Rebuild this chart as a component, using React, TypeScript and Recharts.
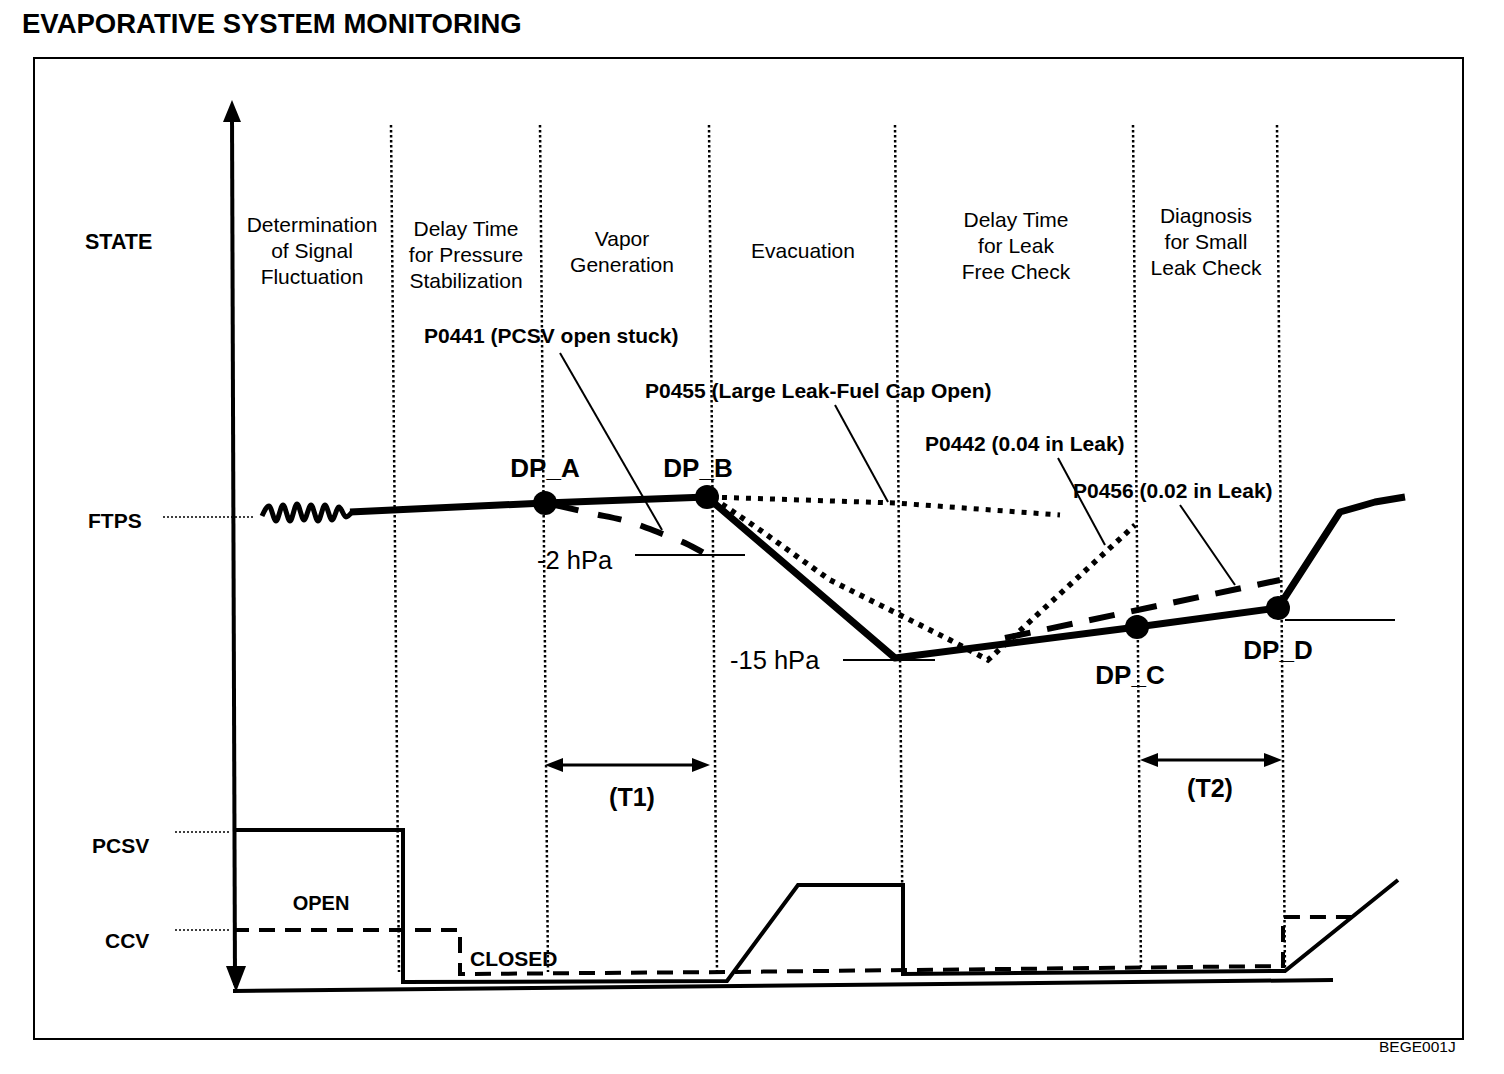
/**
 * Evaporative system monitoring — schematic timing diagram drawn with Recharts.
 * x = time (arbitrary units), y = signal level (arbitrary units).
 */
import { ComposedChart, Line, XAxis, YAxis, ReferenceLine, ReferenceDot } from 'recharts';

const FONT = '"Liberation Sans", Arial, Helvetica, sans-serif';

// phase boundaries (time)
const PHASE_BOUNDS = [16.1, 31.0, 47.9, 66.5, 90.3, 104.7];

const PHASE_NAMES = [
  ['Determination', 'of Signal', 'Fluctuation'],
  ['Delay Time', 'for Pressure', 'Stabilization'],
  ['Vapor', 'Generation'],
  ['Evacuation'],
  ['Delay Time', 'for Leak', 'Free Check'],
  ['Diagnosis', 'for Small', 'Leak Check'],
];

// FTPS signal
const FTPS_NOISE = [
  { t: 3.2, v: 47.4 }, { t: 3.9, v: 48.4 }, { t: 4.6, v: 46.9 }, { t: 5.3, v: 48.5 },
  { t: 6.0, v: 46.9 }, { t: 6.7, v: 48.6 }, { t: 7.4, v: 47.0 }, { t: 8.1, v: 48.5 },
  { t: 8.8, v: 46.9 }, { t: 9.5, v: 48.5 }, { t: 10.2, v: 47.0 }, { t: 10.9, v: 48.3 },
  { t: 11.6, v: 47.3 }, { t: 12.2, v: 47.8 },
];
const FTPS_TRACE = [
  { t: 12.0, v: 47.8 }, { t: 31.5, v: 48.7 }, { t: 47.7, v: 49.3 }, { t: 66.5, v: 33.2 },
  { t: 90.7, v: 36.3 }, { t: 104.8, v: 38.2 }, { t: 111.0, v: 47.8 }, { t: 114.5, v: 48.8 },
  { t: 117.5, v: 49.3 },
];
const DP_POINTS = [
  { name: 'DP_A', t: 31.5, v: 48.7 },
  { name: 'DP_B', t: 47.7, v: 49.3 },
  { name: 'DP_C', t: 90.7, v: 36.3 },
  { name: 'DP_D', t: 104.8, v: 38.2 },
];

// fault traces
const P0441_TRACE = [
  { t: 32.5, v: 48.5 }, { t: 36.0, v: 47.7 }, { t: 40.0, v: 46.8 }, { t: 43.0, v: 45.7 },
  { t: 45.5, v: 44.7 }, { t: 47.9, v: 43.4 },
];
const P0455_TRACE = [{ t: 48.0, v: 49.3 }, { t: 66.5, v: 48.7 }, { t: 83.0, v: 47.5 }];
const P0442_TRACE = [
  { t: 48.3, v: 49.2 }, { t: 53.0, v: 46.0 }, { t: 60.0, v: 41.0 }, { t: 67.0, v: 37.5 },
  { t: 72.0, v: 35.0 }, { t: 75.8, v: 33.0 }, { t: 90.5, v: 46.5 },
];
const P0456_TRACE = [{ t: 77.5, v: 35.2 }, { t: 105.0, v: 41.0 }];

// valve states
const PCSV_TRACE = [
  { t: 0.3, v: 16.0 }, { t: 17.3, v: 16.0 }, { t: 17.3, v: 0.8 }, { t: 49.7, v: 0.9 },
  { t: 56.8, v: 10.5 }, { t: 67.3, v: 10.5 }, { t: 67.3, v: 1.6 }, { t: 105.5, v: 1.9 },
  { t: 116.8, v: 11.0 },
];
const CCV_TRACE = [
  { t: 0.3, v: 6.0 }, { t: 23.0, v: 6.0 }, { t: 23.0, v: 1.6 }, { t: 49.7, v: 1.8 },
  { t: 105.3, v: 2.4 }, { t: 105.3, v: 7.3 }, { t: 112.2, v: 7.3 },
];
const BASELINE = [{ t: 0.3, v: -0.1 }, { t: 110.3, v: 1.0 }];

const label = (
  key: string,
  t: number,
  v: number,
  lines: string[],
  size: number,
  bold = false,
  anchor: 'start' | 'middle' | 'end' = 'start',
  lh = 26,
) => (
  <ReferenceDot
    key={key}
    x={t}
    y={v}
    r={0}
    ifOverflow="visible"
    shape={(p: any) => (
      <text
        x={p.cx}
        y={p.cy}
        textAnchor={anchor}
        dominantBaseline="central"
        fontFamily={FONT}
        fontSize={size}
        fontWeight={bold ? 700 : 400}
        fill="#000"
      >
        {lines.map((l, i) => (
          <tspan key={i} x={p.cx} dy={i === 0 ? 0 : lh}>
            {l}
          </tspan>
        ))}
      </text>
    )}
  />
);

const arrowHead = (key: string, t: number, v: number, dir: 'up' | 'down' | 'left' | 'right', len = 20, half = 8) => (
  <ReferenceDot
    key={key}
    x={t}
    y={v}
    r={0}
    ifOverflow="visible"
    shape={(p: any) => {
      const { cx, cy } = p;
      let pts = '';
      if (dir === 'up') pts = `${cx},${cy} ${cx - half},${cy + len} ${cx + half},${cy + len}`;
      if (dir === 'down') pts = `${cx},${cy} ${cx - half},${cy - len} ${cx + half},${cy - len}`;
      if (dir === 'left') pts = `${cx},${cy} ${cx + len},${cy - half} ${cx + len},${cy + half}`;
      if (dir === 'right') pts = `${cx},${cy} ${cx - len},${cy - half} ${cx - len},${cy + half}`;
      return <polygon points={pts} fill="#000" />;
    }}
  />
);

const seg = (key: string, a: [number, number], b: [number, number], width = 2, dash?: string) => (
  <ReferenceLine
    key={key}
    segment={[{ x: a[0], y: a[1] }, { x: b[0], y: b[1] }]}
    stroke="#000"
    strokeWidth={width}
    strokeDasharray={dash}
    ifOverflow="visible"
  />
);

const PHASE_POS = [
  { t: 8.2, v: 76.6 },
  { t: 23.6, v: 76.2 },
  { t: 39.2, v: 75.2 },
  { t: 57.3, v: 74.0 },
  { t: 78.6, v: 77.1 },
  { t: 97.6, v: 77.5 },
];

export default function App() {
  return (
    <div style={{ position: 'absolute', left: 0, top: 0, width: 1504, height: 1074, background: '#fff' }}>
      <div
        style={{
          position: 'absolute',
          left: 22,
          top: 7,
          fontFamily: FONT,
          fontWeight: 700,
          fontSize: 27.5,
          lineHeight: '34px',
        }}
      >
        EVAPORATIVE SYSTEM MONITORING
      </div>
      <div
        style={{
          position: 'absolute',
          left: 33,
          top: 57,
          width: 1431,
          height: 983,
          border: '2px solid #000',
          boxSizing: 'border-box',
        }}
      />
      <div style={{ position: 'absolute', left: 1379, top: 1038, fontFamily: FONT, fontSize: 15.5 }}>BEGE001J</div>
      <div style={{ position: 'absolute', left: 0, top: 0 }}>
        <ComposedChart width={1504} height={1074} margin={{ top: 0, right: 0, bottom: 0, left: 0 }}>
          <XAxis type="number" dataKey="t" domain={[-23, 127.4]} hide allowDataOverflow />
          <YAxis type="number" domain={[-8.4, 99]} hide allowDataOverflow />

          {/* phase boundaries */}
          {PHASE_BOUNDS.map((t, i) => seg(`pb${i}`, [t, 86.5], [t + 0.8, 1.8], 2.5, '2.5 2.5'))}

          {/* left labels and dotted leaders */}
          {seg('lf', [-6.7, 47.3], [2.3, 47.3], 1.5, '2 2')}
          {seg('lp', [-5.5, 15.8], [0, 15.8], 1.5, '2 2')}
          {seg('lc', [-5.5, 6.0], [0, 6.0], 1.5, '2 2')}

          {/* vertical state axis */}
          {seg('ax', [0.2, 87.5], [0.5, 0.5], 4)}
          {arrowHead('axu', 0.2, 89.0, 'up', 22, 9)}
          {arrowHead('axd', 0.6, -0.2, 'down', 26, 10)}

          {/* reference marks */}
          {seg('h2', [40.5, 43.5], [51.5, 43.5], 2)}
          {seg('h15', [61.3, 33.0], [70.5, 33.0], 2)}
          {seg('hd', [105.5, 37.0], [116.5, 37.0], 2)}

          {/* leaders */}
          {seg('l41', [33.0, 63.7], [43.2, 46.0], 2)}
          {seg('l55', [60.5, 58.5], [65.8, 48.8], 2)}
          {seg('l42', [82.8, 53.2], [87.5, 44.5], 2)}
          {seg('l56', [95.0, 48.5], [100.5, 40.5], 2)}

          {/* T1 / T2 */}
          {seg('t1', [33.0, 22.5], [46.5, 22.5], 3)}
          {arrowHead('t1l', 31.5, 22.5, 'left', 18, 7)}
          {arrowHead('t1r', 48.0, 22.5, 'right', 18, 7)}
          {seg('t2', [92.5, 23.0], [103.7, 23.0], 3)}
          {arrowHead('t2l', 91.0, 23.0, 'left', 18, 7)}
          {arrowHead('t2r', 105.2, 23.0, 'right', 18, 7)}

          <Line data={BASELINE} dataKey="v" stroke="#000" strokeWidth={4} dot={false} activeDot={false} isAnimationActive={false} />
          <Line data={CCV_TRACE} dataKey="v" stroke="#000" strokeWidth={4} strokeDasharray="16 10" dot={false} activeDot={false} isAnimationActive={false} />
          <Line data={PCSV_TRACE} dataKey="v" stroke="#000" strokeWidth={4} dot={false} activeDot={false} isAnimationActive={false} />

          <Line data={P0455_TRACE} dataKey="v" stroke="#000" strokeWidth={5} strokeDasharray="5 7" dot={false} activeDot={false} isAnimationActive={false} />
          <Line data={P0442_TRACE} dataKey="v" stroke="#000" strokeWidth={5.5} strokeDasharray="5 6" dot={false} activeDot={false} isAnimationActive={false} />
          <Line data={P0456_TRACE} dataKey="v" stroke="#000" strokeWidth={6} strokeDasharray="26 17" dot={false} activeDot={false} isAnimationActive={false} />
          <Line data={P0441_TRACE} dataKey="v" type="monotone" stroke="#000" strokeWidth={6} strokeDasharray="24 20" dot={false} activeDot={false} isAnimationActive={false} />
          <Line data={FTPS_NOISE} dataKey="v" type="monotone" stroke="#000" strokeWidth={5} dot={false} activeDot={false} isAnimationActive={false} />
          <Line data={FTPS_TRACE} dataKey="v" stroke="#000" strokeWidth={7} strokeLinejoin="round" dot={false} activeDot={false} isAnimationActive={false} />

          {DP_POINTS.map((d) => (
            <ReferenceDot key={d.name} x={d.t} y={d.v} r={12} fill="#000" stroke="none" ifOverflow="visible" />
          ))}

          {/* texts */}
          {PHASE_NAMES.map((lines, i) => label(`ph${i}`, PHASE_POS[i].t, PHASE_POS[i].v, lines, 21, false, 'middle'))}
          {label('state', -14.5, 74.8, ['STATE'], 21.5, true)}
          {label('ftps', -14.2, 47.0, ['FTPS'], 21, true)}
          {label('pcsv', -13.8, 14.5, ['PCSV'], 21, true)}
          {label('ccv', -12.5, 5.0, ['CCV'], 21, true)}

          {label('dpa', 31.5, 52.2, [DP_POINTS[0].name], 26, true, 'middle')}
          {label('dpb', 46.8, 52.2, [DP_POINTS[1].name], 26, true, 'middle')}
          {label('dpc', 90.0, 31.5, [DP_POINTS[2].name], 26, true, 'middle')}
          {label('dpd', 104.8, 34.0, [DP_POINTS[3].name], 26, true, 'middle')}

          {label('p41', 19.4, 65.5, ['P0441 (PCSV open stuck)'], 21, true)}
          {label('p55', 41.5, 60.0, ['P0455 (Large Leak-Fuel Cap Open)'], 21, true)}
          {label('p42', 69.5, 54.7, ['P0442 (0.04 in Leak)'], 21, true)}
          {label('p56', 84.3, 50.0, ['P0456 (0.02 in Leak)'], 21, true)}

          {label('m2', 30.7, 43.0, ['-2 hPa'], 25.5)}
          {label('m15', 50.0, 33.0, ['-15 hPa'], 25.5)}
          {label('tt1', 40.2, 19.3, ['(T1)'], 25, true, 'middle')}
          {label('tt2', 98.0, 20.2, ['(T2)'], 25, true, 'middle')}
          {label('open', 9.1, 8.7, ['OPEN'], 20, true, 'middle')}
          {label('closed', 24.0, 3.2, ['CLOSED'], 21, true)}
        </ComposedChart>
      </div>
    </div>
  );
}
